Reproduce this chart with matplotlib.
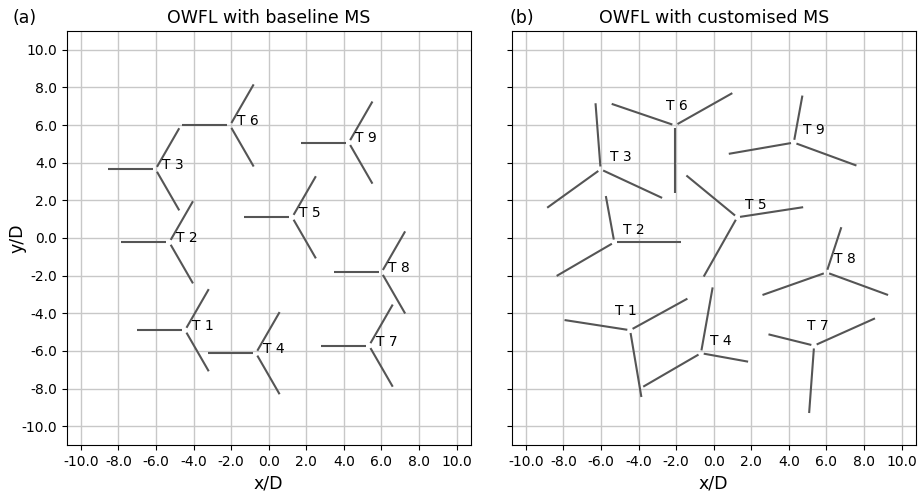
import numpy as np
import matplotlib
matplotlib.use("Agg")
import matplotlib.pyplot as plt

# ---------------- data ----------------
turbine_names = ["T 1", "T 2", "T 3", "T 4", "T 5", "T 6", "T 7", "T 8", "T 9"]
hub_x = [-4.45, -5.29, -6.02, -0.68, 1.25, -2.06, 5.34, 6.00, 4.26]
hub_y = [-4.90, -0.23, 3.65, -6.12, 1.10, 5.98, -5.72, -1.83, 5.07]

# baseline MS: identical rotor orientation for every turbine (deg, blade length in D)
baseline_angles = [180.0, 60.0, 300.0]
baseline_lengths = [2.55, 2.52, 2.52]

# customised MS: per-turbine blade angles (deg) and projected blade lengths (D)
custom_angles = [
    [171.2, 28.8, 279.6],
    [0.0, 100.4, 210.2],
    [94.4, 215.7, 335.1],
    [79.9, 349.8, 210.1],
    [8.7, 140.6, 240.5],
    [29.4, 161.2, 270.0],
    [265.8, 166.1, 24.1],
    [71.8, 199.4, 339.9],
    [79.6, 189.8, 339.9],
]
custom_lengths = [
    [3.53, 3.48, 3.60],
    [3.54, 2.50, 3.55],
    [3.52, 3.50, 3.61],
    [3.55, 2.55, 3.55],
    [3.55, 3.50, 3.62],
    [3.50, 3.56, 3.60],
    [3.59, 2.50, 3.55],
    [2.53, 3.61, 3.49],
    [2.54, 3.51, 3.55],
]

tick_values = [-10.0, -8.0, -6.0, -4.0, -2.0, 0.0, 2.0, 4.0, 6.0, 8.0, 10.0]

# ---------------- layout / style ----------------
blade_color = "#555555"
blade_lw = 1.5
hub_gap = 0.15
left_label_offset = (0.35, 0.22)
right_label_offsets = [(-0.2, 1.02), (1.02, 0.66), (1.07, 0.68), (1.05, 0.67),
                       (1.0, 0.63), (0.12, 1.02), (0.22, 1.06), (1.0, 0.7),
                       (1.06, 0.67)]

fig = plt.figure(figsize=(9.21, 4.95), dpi=100)
ax_a = fig.add_axes([0.0724, 0.101, 0.4387, 0.8364])
ax_b = fig.add_axes([0.5556, 0.101, 0.4387, 0.8364])


def draw_rotor(ax, x0, y0, angles, lengths):
    for ang, L in zip(angles, lengths):
        t = np.deg2rad(ang)
        ax.plot([x0 + hub_gap * np.cos(t), x0 + L * np.cos(t)],
                [y0 + hub_gap * np.sin(t), y0 + L * np.sin(t)],
                color=blade_color, lw=blade_lw, solid_capstyle="butt", zorder=3)


for i, name in enumerate(turbine_names):
    draw_rotor(ax_a, hub_x[i], hub_y[i], baseline_angles, baseline_lengths)
    ax_a.text(hub_x[i] + left_label_offset[0], hub_y[i] + left_label_offset[1], name,
              ha="left", va="center", fontsize=10, zorder=4)
    draw_rotor(ax_b, hub_x[i], hub_y[i], custom_angles[i], custom_lengths[i])
    dx, dy = right_label_offsets[i]
    ax_b.text(hub_x[i] + dx, hub_y[i] + dy, name,
              ha="center", va="center", fontsize=10, zorder=4)

for ax, title in [(ax_a, "OWFL with baseline MS"), (ax_b, "OWFL with customised MS")]:
    ax.set_xlim(-10.75, 10.75)
    ax.set_ylim(-11.0, 11.0)
    ax.set_xticks(tick_values)
    ax.set_yticks(tick_values)
    ax.set_xticklabels([f"{v:.1f}" for v in tick_values], fontsize=10)
    ax.grid(True, color="#c8c8c8", lw=1.0, zorder=0)
    ax.set_axisbelow(True)
    ax.set_title(title, fontsize=12.5)
    ax.set_xlabel("x/D", fontsize=12.5)

ax_a.set_yticklabels([f"{v:.1f}" for v in tick_values], fontsize=10)
ax_b.set_yticklabels([])
ax_a.set_ylabel("y/D", fontsize=12.5)
ax_a.yaxis.set_label_coords(-0.100, 0.5)

fig.text(0.0138, 0.9636, "(a)", ha="left", va="center", fontsize=12.5)
fig.text(0.5530, 0.9636, "(b)", ha="left", va="center", fontsize=12.5)

fig.savefig("out.png", dpi=100)
